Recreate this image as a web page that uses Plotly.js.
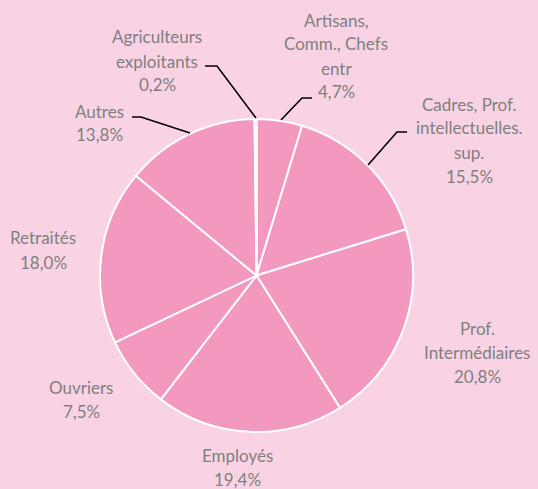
<!DOCTYPE html>
<html>
<head>
<meta charset="utf-8">
<script src="https://cdn.plot.ly/plotly-3.0.1.min.js"></script>
<style>html,body{margin:0;padding:0;background:#F9D3E4;}#chart{width:538px;height:489px;}</style>
</head>
<body>
<div id="chart"></div>
<script>
// Data (clockwise from 12 o'clock)
const categories = ["Artisans,<br>Comm., Chefs<br>entr", "Cadres, Prof.<br>intellectuelles.<br>sup.", "Prof.<br>Intermédiaires", "Employés", "Ouvriers", "Retraités", "Autres", "Agriculteurs<br>exploitants"];
const shares = [4.7, 15.5, 20.8, 19.4, 7.5, 18.0, 13.8, 0.2];

// Layout helpers (label positions, pixel -> paper)
const W = 538, H = 489;
const px = (x) => x / W;
const py = (y) => 1 - y / H;
// label centre positions (pixels) per category, same order
const labelPos = [[336, 56], [469, 140], [477, 352], [237, 467], [81, 399], [43, 250], [99, 123], [157, 61]];
const lineGap = 24;
// leader lines (pixels), null where none
const leaders = [
  [[312, 98], [302, 98], [281, 120]],
  [[407, 132], [397, 132], [368, 165]],
  null, null, null, null,
  [[132, 117], [141, 117], [190, 133]],
  [[205, 66], [217, 66], [256, 118]]
];

const fmt = v => v.toFixed(1).replace('.', ',') + '%';

const annotations = [];
categories.forEach((c, i) => {
  const lines = (c + '<br>' + fmt(shares[i])).split('<br>');
  const n = lines.length;
  lines.forEach((t, k) => {
    const yc = labelPos[i][1] + (k - (n - 1) / 2) * lineGap;
    annotations.push({
      xref: 'paper', yref: 'paper',
      x: px(labelPos[i][0]), y: py(yc),
      xanchor: 'center', yanchor: 'middle',
      text: t, showarrow: false, align: 'center',
      font: {family: 'Lato, "Open Sans", sans-serif', size: 17, color: '#7F7F7F'}
    });
  });
});

const shapes = leaders.filter(l => l).map(l => ({
  type: 'path', xref: 'paper', yref: 'paper',
  path: 'M' + l.map(p => px(p[0]) + ',' + py(p[1])).join(' L'),
  line: {color: '#000000', width: 1.6}
}));

const trace = {
  type: 'pie',
  labels: categories,
  values: shares,
  sort: false,
  direction: 'clockwise',
  rotation: 0,
  textinfo: 'none',
  hoverinfo: 'none',
  marker: {colors: categories.map(() => '#F399C0'), line: {color: '#FFFFFF', width: 2}},
  domain: {x: [px(100), px(413)], y: [py(432), py(119)]},
  showlegend: false
};

Plotly.newPlot('chart', [trace], {
  width: W, height: H,
  margin: {l: 0, r: 0, t: 0, b: 0},
  paper_bgcolor: '#F9D3E4',
  plot_bgcolor: '#F9D3E4',
  showlegend: false,
  annotations: annotations,
  shapes: shapes
}, {staticPlot: true});
</script>
</body>
</html>
